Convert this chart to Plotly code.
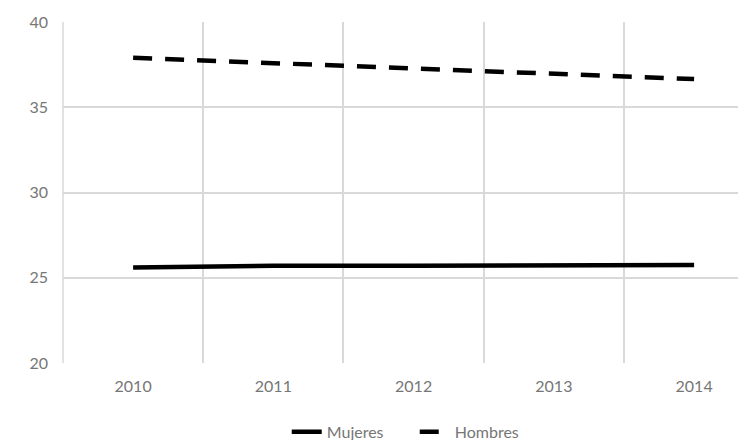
import plotly.graph_objects as go

years = [2010, 2011, 2012, 2013, 2014]
year_labels = ["2010", "2011", "2012", "2013", "2014"]
mujeres = [25.6, 25.7, 25.7, 25.7, 25.75]
hombres = [37.9, 37.6, 37.3, 36.95, 36.65]
y_ticks = [20, 25, 30, 35, 40]

font_family = "Lato, 'Open Sans', sans-serif"
grey = "#767676"
grid = "#d9d9d9"

fig = go.Figure()
fig.add_trace(go.Scatter(x=years, y=mujeres, name="Mujeres", mode="lines",
                         line=dict(color="black", width=4.5)))
fig.add_trace(go.Scatter(x=years, y=hombres, name="Hombres", mode="lines",
                         line=dict(color="black", width=4.5, dash="19px,13px")))

fig.update_layout(
    width=746, height=440,
    margin=dict(l=55, r=8, t=14, b=85, autoexpand=False),
    paper_bgcolor="white", plot_bgcolor="white",
    font=dict(family=font_family, size=16, color=grey),
    showlegend=True,
    legend=dict(orientation="h", x=0.515, xanchor="center", y=-0.202, yanchor="middle",
                font=dict(size=16, color=grey), itemwidth=30, tracegroupgap=0,
                entrywidth=83),
    xaxis=dict(range=[2009.5, 2014.37], tickvals=years, ticktext=year_labels,
               showgrid=False, zeroline=False, showline=False, ticks="",
               ticklabelstandoff=12, automargin=False,
               minor=dict(showgrid=True, gridcolor=grid, gridwidth=1.5, tick0=2009.5, dtick=1)),
    yaxis=dict(range=[20, 40], tickvals=y_ticks, showgrid=True, gridcolor=grid, gridwidth=1.5,
               zeroline=False, showline=False, ticks="", ticklabelstandoff=14, automargin=False),
    shapes=[dict(type="line", xref="paper", yref="paper", x0=0, x1=0, y0=0, y1=1,
                 line=dict(color=grid, width=1.5), layer="below")],
)

fig.write_html("out.html")
